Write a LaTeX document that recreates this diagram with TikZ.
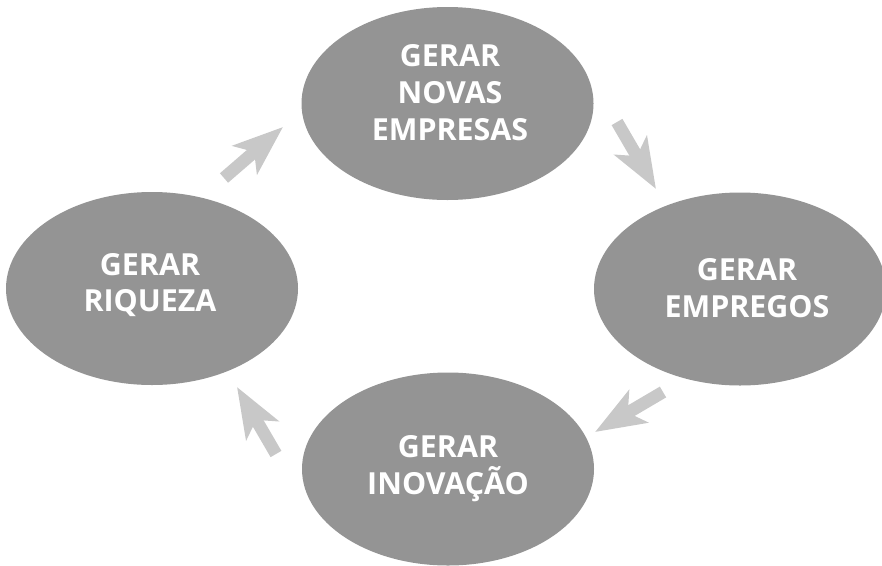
\documentclass[tikz,border=0pt]{standalone}
\usepackage{fontspec}
\newfontfamily\lblfont{Open Sans}
\usetikzlibrary{shapes.geometric,arrows.meta}
\definecolor{ellgray}{HTML}{949494}
\definecolor{arrgray}{HTML}{C8C8C8}
\tikzset{
  bubble/.style={ellipse, fill=ellgray, draw=none, minimum width=292pt, minimum height=193pt, inner sep=0pt},
  lbl/.style={text=white, align=center, inner sep=0pt, font=\lblfont\bfseries\fontsize{30.4}{36.7}\selectfont},
  flow/.style={draw=arrgray, line width=12.5pt, line cap=butt, -{Stealth[length=50pt, width=37pt, inset=12pt, fill=arrgray]}}
}
\begin{document}
\begin{tikzpicture}[x=1pt,y=-1pt]
\useasboundingbox (0,0) rectangle (882,565);
\clip (0,0) rectangle (882,565);
\node[bubble] (n1) at (447.5,103.5) {};
\node[bubble] (n2) at (740,289) {};
\node[bubble] (n3) at (448,469) {};
\node[bubble] (n4) at (152,288.5) {};
\node[lbl] (t1) at (450,92.5) {GERAR\\NOVAS\\EMPRESAS};
\node[lbl] (t2) at (747,288) {GERAR\\EMPREGOS};
\node[lbl] (t3) at (448,468.5) {GERAR\\INOVAÇÃO};
\node[lbl] (t4) at (150,285) {GERAR\\RIQUEZA};
\coordinate (a1s) at (224,178); \coordinate (a1e) at (283,127);
\coordinate (a2s) at (617,122); \coordinate (a2e) at (656,189);
\coordinate (a3s) at (663,392); \coordinate (a3e) at (595,432);
\coordinate (a4s) at (276,454); \coordinate (a4e) at (237,387);
\draw[flow] (a1s) -- (a1e);
\draw[flow] (a2s) -- (a2e);
\draw[flow] (a3s) -- (a3e);
\draw[flow] (a4s) -- (a4e);
\end{tikzpicture}
\end{document}
